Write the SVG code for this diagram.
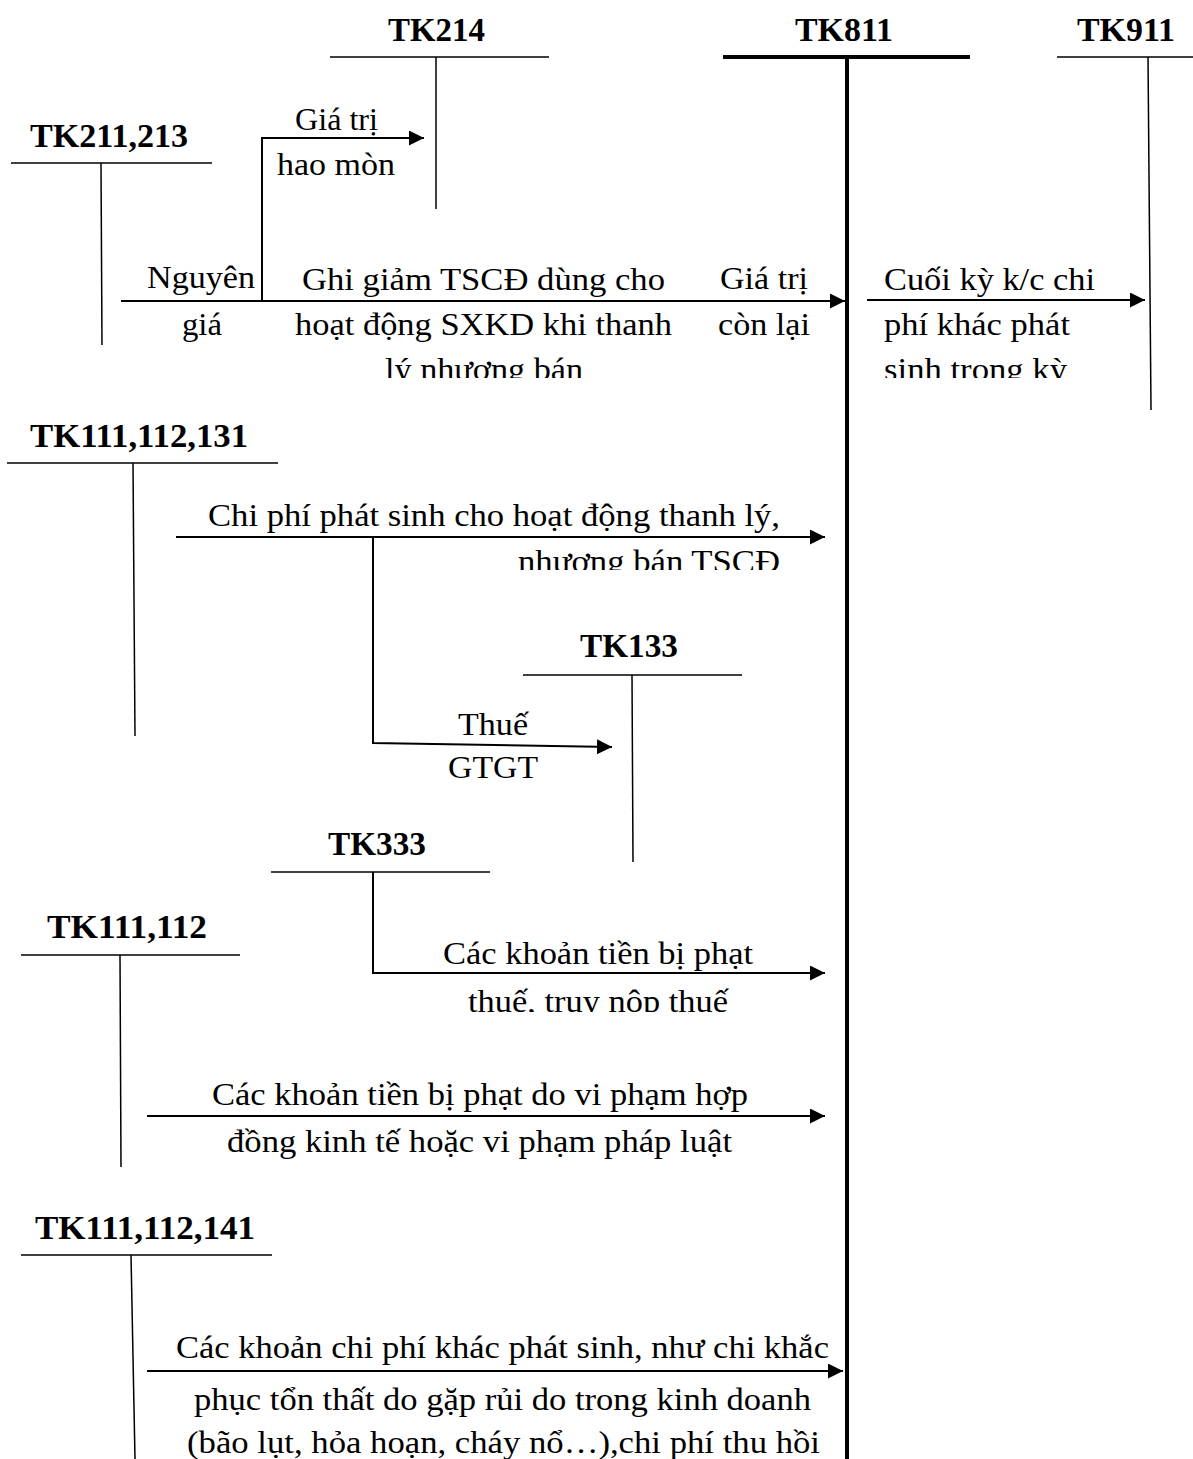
<svg xmlns="http://www.w3.org/2000/svg" width="1193" height="1459" viewBox="0 0 1193 1459">
<style>
.t{font-family:"Liberation Serif","Times New Roman",serif;font-size:34px;font-weight:bold;fill:#000}
.l{font-family:"Liberation Serif","Times New Roman",serif;font-size:32px;fill:#000}
.ln{stroke:#000;stroke-width:1.5;fill:none}
.thick{stroke:#000;stroke-width:4;fill:none}
.arr{stroke:#000;stroke-width:2;fill:none;marker-end:url(#ah)}
</style>
<defs>
<marker id="ah" markerUnits="userSpaceOnUse" markerWidth="16" markerHeight="16" refX="15" refY="7.5" orient="auto">
<path d="M0,0 L15,7.5 L0,15 z" fill="#000"/>
</marker>
<clipPath id="c1"><rect x="0" y="340" width="1193" height="38"/></clipPath>
<clipPath id="c2"><rect x="0" y="530" width="1193" height="40"/></clipPath>
<clipPath id="c3"><rect x="0" y="975" width="1193" height="37"/></clipPath>
</defs>
<rect width="1193" height="1459" fill="#fff"/>

<g id="tk214">
<text class="t" x="388" y="41" textLength="97" lengthAdjust="spacingAndGlyphs">TK214</text>
<line class="ln" x1="330" y1="57" x2="549" y2="57"/>
<line class="ln" x1="436" y1="57" x2="436" y2="209"/>
</g>
<g id="tk811">
<text class="t" x="795" y="41" textLength="98" lengthAdjust="spacingAndGlyphs">TK811</text>
<line class="thick" x1="723" y1="57" x2="970" y2="57"/>
<line class="thick" x1="847" y1="57" x2="847" y2="1459"/>
</g>
<g id="tk911">
<text class="t" x="1077" y="41" textLength="98" lengthAdjust="spacingAndGlyphs">TK911</text>
<line class="ln" x1="1057" y1="57" x2="1193" y2="57"/>
<line class="ln" x1="1148" y1="57" x2="1151" y2="410"/>
</g>
<g id="tk211">
<text class="t" x="30" y="147" textLength="158" lengthAdjust="spacingAndGlyphs">TK211,213</text>
<line class="ln" x1="11" y1="163" x2="212" y2="163"/>
<line class="ln" x1="101" y1="163" x2="102" y2="345"/>
</g>
<g id="tk111_112_131">
<text class="t" x="30" y="447" textLength="218" lengthAdjust="spacingAndGlyphs">TK111,112,131</text>
<line class="ln" x1="7" y1="463" x2="278" y2="463"/>
<line class="ln" x1="133" y1="463" x2="135" y2="736"/>
</g>
<g id="tk133">
<text class="t" x="580" y="657" textLength="98" lengthAdjust="spacingAndGlyphs">TK133</text>
<line class="ln" x1="523" y1="675" x2="742" y2="675"/>
<line class="ln" x1="632" y1="675" x2="633" y2="862"/>
</g>
<g id="tk333">
<text class="t" x="328" y="855" textLength="98" lengthAdjust="spacingAndGlyphs">TK333</text>
<line class="ln" x1="271" y1="872" x2="490" y2="872"/>
</g>
<g id="tk111_112">
<text class="t" x="47" y="938" textLength="160" lengthAdjust="spacingAndGlyphs">TK111,112</text>
<line class="ln" x1="21" y1="955" x2="240" y2="955"/>
<line class="ln" x1="120" y1="955" x2="121" y2="1167"/>
</g>
<g id="tk111_112_141">
<text class="t" x="35" y="1239" textLength="220" lengthAdjust="spacingAndGlyphs">TK111,112,141</text>
<line class="ln" x1="21" y1="1255" x2="272" y2="1255"/>
<line class="ln" x1="131" y1="1255" x2="135" y2="1459"/>
</g>

<g id="connectors">
<path class="arr" d="M121,301 H845"/>
<path class="arr" d="M262,301 V138 H424"/>
<path class="arr" d="M867,300 H1145"/>
<path class="arr" d="M176,537 H825"/>
<path class="arr" d="M373,537 V743 L612,747"/>
<path class="arr" d="M373,872 V973 H825"/>
<path class="arr" d="M147,1116 H825"/>
<path class="arr" d="M147,1371 H843"/>
</g>

<g id="labels">
<text class="l" x="295" y="130" textLength="83" lengthAdjust="spacingAndGlyphs">Giá trị</text>
<text class="l" x="277" y="175" textLength="118" lengthAdjust="spacingAndGlyphs">hao mòn</text>
<text class="l" x="147" y="288" textLength="108" lengthAdjust="spacingAndGlyphs">Nguyên</text>
<text class="l" x="182" y="335" textLength="40" lengthAdjust="spacingAndGlyphs">giá</text>
<text class="l" x="302" y="290" textLength="363" lengthAdjust="spacingAndGlyphs">Ghi giảm TSCĐ dùng cho</text>
<text class="l" x="295" y="335" textLength="377" lengthAdjust="spacingAndGlyphs">hoạt động SXKD khi thanh</text>
<text class="l" x="385" y="380" textLength="198" lengthAdjust="spacingAndGlyphs" clip-path="url(#c1)">lý nhượng bán</text>
<text class="l" x="720" y="289" textLength="88" lengthAdjust="spacingAndGlyphs">Giá trị</text>
<text class="l" x="718" y="335" textLength="92" lengthAdjust="spacingAndGlyphs">còn lại</text>
<text class="l" x="884" y="290" textLength="211" lengthAdjust="spacingAndGlyphs">Cuối kỳ k/c chi</text>
<text class="l" x="884" y="335" textLength="186" lengthAdjust="spacingAndGlyphs">phí khác phát</text>
<text class="l" x="884" y="380" textLength="183" lengthAdjust="spacingAndGlyphs" clip-path="url(#c1)">sinh trong kỳ</text>
<text class="l" x="208" y="526" textLength="572" lengthAdjust="spacingAndGlyphs">Chi phí phát sinh cho hoạt động thanh lý,</text>
<text class="l" x="518" y="572" textLength="262" lengthAdjust="spacingAndGlyphs" clip-path="url(#c2)">nhượng bán TSCĐ</text>
<text class="l" x="458" y="735" textLength="70" lengthAdjust="spacingAndGlyphs">Thuế</text>
<text class="l" x="448" y="778" textLength="90" lengthAdjust="spacingAndGlyphs">GTGT</text>
<text class="l" x="443" y="964" textLength="310" lengthAdjust="spacingAndGlyphs">Các khoản tiền bị phạt</text>
<text class="l" x="468" y="1012" textLength="260" lengthAdjust="spacingAndGlyphs" clip-path="url(#c3)">thuế, truy nộp thuế</text>
<text class="l" x="212" y="1105" textLength="536" lengthAdjust="spacingAndGlyphs">Các khoản tiền bị phạt do vi phạm hợp</text>
<text class="l" x="227" y="1152" textLength="505" lengthAdjust="spacingAndGlyphs">đồng kinh tế hoặc vi phạm pháp luật</text>
<text class="l" x="176" y="1358" textLength="653" lengthAdjust="spacingAndGlyphs">Các khoản chi phí khác phát sinh, như chi khắc</text>
<text class="l" x="194" y="1410" textLength="617" lengthAdjust="spacingAndGlyphs">phục tổn thất do gặp rủi do trong kinh doanh</text>
<text class="l" x="187" y="1453" textLength="633" lengthAdjust="spacingAndGlyphs">(bão lụt, hỏa hoạn, cháy nổ…),chi phí thu hồi</text>
</g>
</svg>
